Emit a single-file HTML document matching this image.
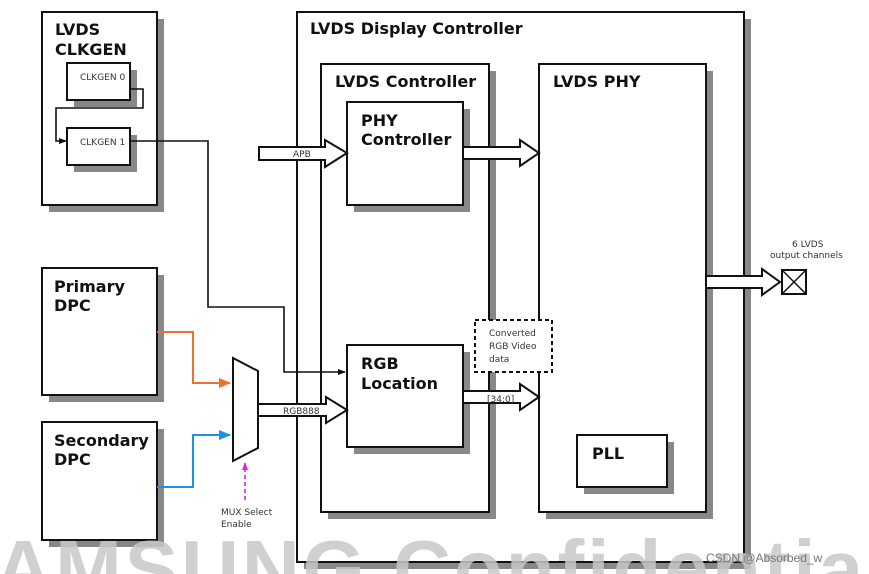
<!DOCTYPE html>
<html><head><meta charset="utf-8"><style>
html,body{margin:0;padding:0;background:#fff;width:869px;height:574px;overflow:hidden;}
svg{display:block;overflow:hidden;font-family:"DejaVu Sans","Liberation Sans",sans-serif;}
.t{font-weight:bold;font-size:16px;fill:#111;}
.s{font-size:9px;fill:#333;}
</style></head><body>
<svg width="869" height="574" viewBox="0 0 869 574" xmlns="http://www.w3.org/2000/svg">
<defs>
<clipPath id="cp"><rect x="0" y="0" width="869" height="574"/></clipPath>
<marker id="ab" markerWidth="8" markerHeight="8" refX="7" refY="4" orient="auto" markerUnits="userSpaceOnUse"><path d="M0,1 L8,4 L0,7 z" fill="#111"/></marker>
<marker id="ao" markerWidth="12" markerHeight="12" refX="11" refY="6" orient="auto" markerUnits="userSpaceOnUse"><path d="M0,1 L12,6 L0,11 z" fill="#f07030"/></marker>
<marker id="abl" markerWidth="12" markerHeight="12" refX="11" refY="6" orient="auto" markerUnits="userSpaceOnUse"><path d="M0,1 L12,6 L0,11 z" fill="#1e90e8"/></marker>
<marker id="am" markerWidth="8" markerHeight="8" refX="7" refY="4" orient="auto" markerUnits="userSpaceOnUse"><path d="M0,1 L8,4 L0,7 z" fill="#e020e0"/></marker>
</defs>
<g clip-path="url(#cp)">
<g stroke="#111" stroke-width="2" fill="#fff">
<rect x="304" y="19" width="447" height="550" fill="#888" stroke="none"/>
<rect x="297" y="12" width="447" height="550"/>
<rect x="49" y="19" width="115" height="193" fill="#888" stroke="none"/>
<rect x="42" y="12" width="115" height="193"/>
<rect x="74" y="70" width="63" height="37" fill="#888" stroke="none"/>
<rect x="67" y="63" width="63" height="37"/>
<rect x="74" y="135" width="63" height="37" fill="#888" stroke="none"/>
<rect x="67" y="128" width="63" height="37"/>
<rect x="49" y="275" width="115" height="127" fill="#888" stroke="none"/>
<rect x="42" y="268" width="115" height="127"/>
<rect x="49" y="429" width="115" height="118" fill="#888" stroke="none"/>
<rect x="42" y="422" width="115" height="118"/>
<rect x="328" y="71" width="168" height="448" fill="#888" stroke="none"/>
<rect x="321" y="64" width="168" height="448"/>
<rect x="546" y="71" width="167" height="448" fill="#888" stroke="none"/>
<rect x="539" y="64" width="167" height="448"/>
<rect x="354" y="109" width="116" height="103" fill="#888" stroke="none"/>
<rect x="347" y="102" width="116" height="103"/>
<rect x="354" y="352" width="116" height="102" fill="#888" stroke="none"/>
<rect x="347" y="345" width="116" height="102"/>
<rect x="584" y="442" width="90" height="52" fill="#888" stroke="none"/>
<rect x="577" y="435" width="90" height="52"/>
</g>
<g fill="none" stroke="#111" stroke-width="1.6">
<path d="M130,89 H143 V108 H56 V141 H66" marker-end="url(#ab)"/>
<path d="M130,141 H208 V307 H284 V372 H345" marker-end="url(#ab)"/>
</g>
<path d="M157,332 H193 V383 H230" fill="none" stroke="#f07030" stroke-width="2" marker-end="url(#ao)"/>
<path d="M157,487 H193 V435 H230" fill="none" stroke="#1e90e8" stroke-width="2" marker-end="url(#abl)"/>
<path d="M245,500 V463" fill="none" stroke="#e020e0" stroke-width="1.6" stroke-dasharray="4,3" marker-end="url(#am)"/>
<path d="M233,358 L258,371 L258,448 L233,461 Z" fill="#fff" stroke="#111" stroke-width="2"/>
<g fill="#fff" stroke="#111" stroke-width="2">
<path d="M259,147 H325 V140 L347,153 L325,167 V160 H259 Z"/>
<path d="M463,147 H520 V140 L539,153 L520,166 V159 H463 Z"/>
<path d="M258,404 H326 V397 L347,410 L326,423 V416 H258 Z"/>
<path d="M463,391 H520 V384 L539,397 L520,410 V403 H463 Z"/>
<path d="M706,276 H762 V269 L780,282 L762,295 V288 H706 Z"/>
<rect x="782" y="270" width="24" height="24"/>
</g>
<path d="M782,270 L806,294 M806,270 L782,294" stroke="#111" stroke-width="1.5"/>
<rect x="475" y="320" width="77" height="52" fill="#fff" stroke="#111" stroke-width="2" stroke-dasharray="4,3"/>
<text class="t" x="55" y="35">LVDS</text>
<text class="t" x="55" y="55">CLKGEN</text>
<text class="s" x="80" y="80" font-size="8">CLKGEN 0</text>
<text class="s" x="80" y="145" font-size="8">CLKGEN 1</text>
<text class="t" x="54" y="292">Primary</text>
<text class="t" x="54" y="311">DPC</text>
<text class="t" x="54" y="446" font-size="15.5">Secondary</text>
<text class="t" x="54" y="465">DPC</text>
<text class="t" x="310" y="34">LVDS Display Controller</text>
<text class="t" x="335" y="87">LVDS Controller</text>
<text class="t" x="553" y="87">LVDS PHY</text>
<text class="t" x="361" y="126">PHY</text>
<text class="t" x="361" y="145">Controller</text>
<text class="t" x="361" y="369">RGB</text>
<text class="t" x="361" y="389">Location</text>
<text class="t" x="592" y="459">PLL</text>
<text class="s" x="293" y="157" font-size="8">APB</text>
<text class="s" x="283" y="414" font-size="8">RGB888</text>
<text class="s" x="487" y="402" font-size="8">[34:0]</text>
<text class="s" x="489" y="336">Converted</text>
<text class="s" x="489" y="349">RGB Video</text>
<text class="s" x="489" y="362">data</text>
<text class="s" x="221" y="515">MUX Select</text>
<text class="s" x="221" y="527">Enable</text>
<text class="s" x="792" y="247" font-size="8">6 LVDS</text>
<text class="s" x="770" y="258" font-size="8">output channels</text>
<text x="-62" y="596" font-size="80" font-weight="bold" fill="#c8c8c8" fill-opacity="0.85" font-family="Liberation Sans,sans-serif" letter-spacing="3">SAMSUNG Confidential</text>
<text x="706" y="562" font-size="12" fill="#777" font-family="Liberation Sans,sans-serif">CSDN @Absorbed_w</text>
</g>
</svg>
</body></html>
